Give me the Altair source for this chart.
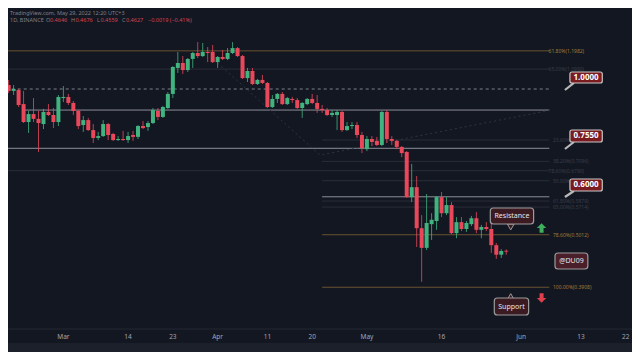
import math
import altair as alt
import pandas as pd

# ---------------- candle data (1D, Feb 17 - May 29 2022) ----------------
dates = pd.date_range("2022-02-17", "2022-05-29", freq="D").strftime("%Y-%m-%d").tolist()

opens = [
    1.084, 1.019, 0.991, 0.995, 0.931, 0.855, 0.888, 0.868, 0.847, 0.897, 0.884, 0.855,
    0.958, 0.963, 0.936, 0.901, 0.843, 0.863, 0.823, 0.793, 0.800, 0.847,
    0.808, 0.785, 0.789, 0.785, 0.804, 0.797, 0.839, 0.835, 0.851, 0.901,
    0.876, 0.914, 0.977, 1.105, 1.131, 1.094, 1.153, 1.186, 1.169, 1.192, 1.192,
    1.136, 1.164, 1.153, 1.186, 1.214, 1.169, 1.053, 1.089, 1.024, 1.044,
    1.029, 0.918, 0.954, 0.977, 0.931, 0.954, 0.949, 0.914, 0.931, 0.954,
    0.936, 0.910, 0.905, 0.884, 0.884, 0.897, 0.823, 0.839, 0.843, 0.804,
    0.752, 0.789, 0.782, 0.767, 0.897, 0.789, 0.782, 0.760, 0.742, 0.599,
    0.628, 0.517, 0.471, 0.527, 0.535, 0.599, 0.555, 0.577, 0.505, 0.532,
    0.515, 0.527, 0.542, 0.513, 0.520, 0.515, 0.477, 0.456, 0.4646,
]
highs = [
    1.094, 1.044, 1.019, 1.000, 0.991, 0.901, 0.958, 0.901, 0.910, 0.931, 0.914, 0.972,
    1.014, 0.977, 0.945, 0.905, 0.880, 0.872, 0.847, 0.816, 0.863, 0.851,
    0.812, 0.800, 0.820, 0.816, 0.820, 0.843, 0.859, 0.859, 0.914, 0.914,
    0.923, 0.986, 1.115, 1.192, 1.169, 1.158, 1.192, 1.249, 1.244, 1.220, 1.232,
    1.169, 1.203, 1.214, 1.249, 1.220, 1.175, 1.105, 1.105, 1.049, 1.069,
    1.034, 0.972, 0.981, 0.986, 0.963, 0.963, 0.958, 0.940, 0.958, 0.977,
    0.972, 0.927, 0.914, 0.905, 0.905, 0.901, 0.855, 0.855, 0.855, 0.816,
    0.800, 0.800, 0.797, 0.901, 0.905, 0.800, 0.785, 0.763, 0.745, 0.701,
    0.662, 0.550, 0.608, 0.555, 0.602, 0.614, 0.599, 0.585, 0.545, 0.545,
    0.535, 0.548, 0.558, 0.525, 0.532, 0.530, 0.482, 0.468, 0.4676,
]
lows = [
    1.005, 0.981, 0.972, 0.918, 0.851, 0.812, 0.855, 0.742, 0.827, 0.880, 0.831, 0.839,
    0.940, 0.927, 0.884, 0.827, 0.816, 0.820, 0.774, 0.785, 0.797, 0.785,
    0.782, 0.782, 0.782, 0.774, 0.782, 0.789, 0.827, 0.820, 0.847, 0.863,
    0.872, 0.910, 0.958, 1.079, 1.074, 1.084, 1.105, 1.158, 1.164, 1.136, 1.131,
    1.105, 1.147, 1.147, 1.180, 1.164, 1.049, 1.034, 1.019, 1.019, 1.024,
    0.914, 0.914, 0.936, 0.927, 0.927, 0.936, 0.910, 0.872, 0.927, 0.931,
    0.893, 0.893, 0.880, 0.876, 0.823, 0.816, 0.820, 0.827, 0.793, 0.738,
    0.745, 0.763, 0.763, 0.763, 0.774, 0.767, 0.752, 0.724, 0.597, 0.585,
    0.473, 0.401, 0.466, 0.489, 0.513, 0.545, 0.550, 0.503, 0.493, 0.510,
    0.508, 0.522, 0.505, 0.493, 0.510, 0.460, 0.447, 0.449, 0.4559,
]
closes = [
    1.019, 0.991, 1.000, 0.927, 0.855, 0.888, 0.868, 0.851, 0.897, 0.884, 0.855, 0.963,
    0.963, 0.936, 0.901, 0.839, 0.863, 0.823, 0.793, 0.800, 0.847, 0.804,
    0.785, 0.789, 0.785, 0.800, 0.797, 0.839, 0.831, 0.851, 0.905, 0.876,
    0.918, 0.977, 1.110, 1.131, 1.094, 1.153, 1.186, 1.169, 1.192, 1.186, 1.136,
    1.164, 1.153, 1.186, 1.214, 1.169, 1.053, 1.089, 1.024, 1.044, 1.029,
    0.918, 0.954, 0.977, 0.931, 0.958, 0.949, 0.914, 0.936, 0.954, 0.936,
    0.910, 0.905, 0.884, 0.893, 0.897, 0.823, 0.839, 0.843, 0.804, 0.756,
    0.789, 0.778, 0.767, 0.897, 0.789, 0.782, 0.760, 0.738, 0.599, 0.628,
    0.517, 0.471, 0.530, 0.538, 0.599, 0.555, 0.577, 0.505, 0.532, 0.515,
    0.530, 0.542, 0.513, 0.520, 0.515, 0.477, 0.456, 0.464, 0.4627,
]

# ---------------- horizontal levels (day offsets are days since Mar 1) ----------------
level_prices = [1.1982, 1.0990, 0.6790, 1.0000, 0.9050, 0.7550, 0.6000,
                0.7853, 0.7096, 0.6476, 0.5879, 0.5714, 0.5012, 0.3908]
level_start = [-14, -14, -14, -14, -7.75, -14, 52, 52, 52, 52, 52, 52, 52, 52]
level_end = [97.65] * 14
level_color = ["#6b5330", "#2a2e37", "#2a2e37", "#7c808a", "#8c8f97", "#8c8f97", "#8c8f97",
               "#2a2e37", "#2a2e37", "#2a2e37", "#2a2e37", "#2a2e37", "#6b5330", "#6b5330"]
level_dashed = [False, False, False, True, False, False, False,
                False, False, False, False, False, False, False]

# labels partly hidden behind the price tags show only their visible part
fib_labels = ["61.80%(1.1982)", "65.00%(1.0990)", "78.60%(0.6790)", "23.60%",
              "38.20%(0.7096)", "50.00%", "61.80%(0.5879)", "65.00%(0.5714)",
              "78.60%(0.5012)", "100.00%(0.3908)"]
fib_label_price = [1.1982, 1.0990, 0.6790, 0.7853, 0.7096, 0.6476, 0.5879, 0.5714, 0.5012, 0.3908]
fib_label_day = [97.5, 97.5, 97.5, 98.4, 98.4, 98.4, 98.4, 98.4, 98.4, 98.4]
fib_label_color = ["#a47a36", "#3a3e48", "#3a3e48", "#3a3e48", "#3a3e48", "#3a3e48",
                   "#3a3e48", "#3a3e48", "#a47a36", "#a47a36"]

trend_day = [31.0, 51.6, 98.0]
trend_price = [1.131, 0.731, 0.905]

# price callouts
price_tags = ["1.0000", "0.7550", "0.6000"]
tag_day0 = [101.8, 101.8, 101.8]
tag_day1 = [108.3, 108.3, 108.3]
tag_top = [1.0839, 0.8234, 0.6528]
tag_bot = [1.0289, 0.7779, 0.6167]
tag_mid = [1.0560, 0.8003, 0.6345]
tail_day0 = [102.6, 102.6, 102.6]
tail_day1 = [100.8, 100.8, 100.8]
tail_tip = [0.9953, 0.7525, 0.5994]

# text callouts
notes = ["Resistance", "Support", "@DU09"]
note_day0 = [85.8, 86.6, 98.8]
note_day1 = [94.5, 93.5, 105.4]
note_top = [0.5690, 0.3714, 0.4597]
note_bot = [0.5274, 0.3426, 0.4261]
note_mid = [0.5477, 0.3567, 0.4426]
note_fill = ["#3b1a22", "#3b1a22", "#4a1f29"]

pointer_day = [89.9, 89.9]
pointer_price = [0.5199, 0.3740]
pointer_shape = ["triangle-down", "triangle-up"]

arrow_day = [96.1, 96.1]
arrow_price = [0.5175, 0.3714]
arrow_color = ["#3fae5f", "#e0404e"]

tick_dates = ["2022-03-01", "2022-03-14", "2022-03-23", "2022-04-01", "2022-04-11", "2022-04-20",
              "2022-05-01", "2022-05-16", "2022-06-01", "2022-06-13", "2022-06-22"]
tick_labels = ["Mar", "14", "23", "Apr", "11", "20", "May", "16", "Jun", "13", "22"]

# ---------------- layout ----------------
W, H = 624, 344
PX_DAY = 5.057
X_MAR1 = 59.2 - 8
Y_ONE, PX_LN = 89 - 8, 211.0
BASE = pd.Timestamp("2022-03-01", tz="UTC")
UP, DOWN = "#41b37f", "#e9485a"
BG = "#131722"
FONT = "Noto Sans"


def iso(d):
    return (BASE + pd.Timedelta(days=d)).strftime("%Y-%m-%dT%H:%M:%SZ")


def ms(d):
    return int((BASE + pd.Timedelta(days=d)).value // 10**6)


xs = alt.Scale(type="utc", domain=[ms((0 - X_MAR1) / PX_DAY), ms((W - X_MAR1) / PX_DAY)])
ys = alt.Scale(type="log", nice=False,
               domain=[math.exp((Y_ONE - H) / PX_LN), math.exp(Y_ONE / PX_LN)])


def X(f):
    return alt.X(f, scale=xs, axis=None)


def Y(f):
    return alt.Y(f, scale=ys, axis=None)


candles = pd.DataFrame({"date": dates, "open": opens, "high": highs, "low": lows, "close": closes})
candles["col"] = [UP if c >= o else DOWN for o, c in zip(opens, closes)]

levels = pd.DataFrame({"start": [iso(d) for d in level_start], "end": [iso(d) for d in level_end],
                       "price": level_prices, "c": level_color, "dash": level_dashed})
fibs = pd.DataFrame({"d": [iso(d) for d in fib_label_day], "price": fib_label_price,
                     "label": fib_labels, "c": fib_label_color})
trend = pd.DataFrame({"d": [iso(d) for d in trend_day], "price": trend_price})
tags = pd.DataFrame({"d0": [iso(d) for d in tag_day0], "d1": [iso(d) for d in tag_day1],
                     "dm": [iso((a + b) / 2) for a, b in zip(tag_day0, tag_day1)],
                     "top": tag_top, "bot": tag_bot, "mid": tag_mid, "label": price_tags,
                     "t0": [iso(d) for d in tail_day0], "t1": [iso(d) for d in tail_day1],
                     "tip": tail_tip})
nts = pd.DataFrame({"d0": [iso(d) for d in note_day0], "d1": [iso(d) for d in note_day1],
                    "dm": [iso((a + b) / 2) for a, b in zip(note_day0, note_day1)],
                    "top": note_top, "bot": note_bot, "mid": note_mid, "label": notes,
                    "fill": note_fill})
pointers = pd.DataFrame({"d": [iso(d) for d in pointer_day], "price": pointer_price,
                         "shape": pointer_shape})
arrows = pd.DataFrame({"d": [iso(d) for d in arrow_day], "price": arrow_price, "c": arrow_color})
ticks = pd.DataFrame({"date": tick_dates, "label": tick_labels})
one = pd.DataFrame({"a": [0]})

layers = []

# bottom band + axis separator
layers.append(alt.Chart(one).mark_rect(color="#1c202b").encode(
    x=alt.value(0), x2=alt.value(W), y=alt.value(335), y2=alt.value(H)))
layers.append(alt.Chart(one).mark_rule(color="#242833", strokeWidth=1).encode(
    x=alt.value(0), x2=alt.value(W), y=alt.value(321)))

# levels
layers.append(alt.Chart(levels[~levels["dash"]]).mark_rule(strokeWidth=1, clip=True).encode(
    x=X("start:T"), x2="end:T", y=Y("price:Q"), color=alt.Color("c:N", scale=None)))
layers.append(alt.Chart(levels[levels["dash"]]).mark_rule(strokeWidth=1, strokeDash=[3, 3], clip=True).encode(
    x=X("start:T"), x2="end:T", y=Y("price:Q"), color=alt.Color("c:N", scale=None)))

# dotted trend
layers.append(alt.Chart(trend).mark_line(strokeDash=[2, 3], strokeWidth=1, color="#30343e", clip=True).encode(
    x=X("d:T"), y=Y("price:Q")))

# candles
layers.append(alt.Chart(candles).mark_rule(strokeWidth=1, opacity=0.8, clip=True).encode(
    x=X("date:T"), y=Y("low:Q"), y2="high:Q", color=alt.Color("col:N", scale=None)))
layers.append(alt.Chart(candles).mark_bar(size=4, clip=True).encode(
    x=X("date:T"), y=Y("open:Q"), y2="close:Q", color=alt.Color("col:N", scale=None)))

# fib labels
layers.append(alt.Chart(fibs).mark_text(align="left", baseline="middle", fontSize=5, font=FONT).encode(
    x=X("d:T"), y=Y("price:Q"), text="label:N", color=alt.Color("c:N", scale=None)))

# price tags
layers.append(alt.Chart(tags).mark_rule(strokeWidth=2.2, color="#b9b9b9").encode(
    x=X("t0:T"), x2="t1:T", y=Y("bot:Q"), y2="tip:Q"))
layers.append(alt.Chart(tags).mark_rect(fill="#7a1b20", stroke="#c8c8c8", strokeWidth=1.2, cornerRadius=2).encode(
    x=X("d0:T"), x2="d1:T", y=Y("top:Q"), y2="bot:Q"))
layers.append(alt.Chart(tags).mark_text(fontSize=8, fontWeight="bold", color="#ffffff", font=FONT,
                                        baseline="middle").encode(
    x=X("dm:T"), y=Y("mid:Q"), text="label:N"))

# notes
layers.append(alt.Chart(pointers).mark_point(filled=True, size=45, fill="#3b1a22", stroke="#9a9a9a",
                                             strokeWidth=1, opacity=1).encode(
    x=X("d:T"), y=Y("price:Q"), shape=alt.Shape("shape:N", scale=None)))
layers.append(alt.Chart(nts).mark_rect(stroke="#9c9c9c", strokeWidth=1.2, cornerRadius=3).encode(
    x=X("d0:T"), x2="d1:T", y=Y("top:Q"), y2="bot:Q", fill=alt.Fill("fill:N", scale=None)))
layers.append(alt.Chart(nts).mark_text(fontSize=7, color="#e6e6e6", font=FONT, baseline="middle").encode(
    x=X("dm:T"), y=Y("mid:Q"), text="label:N"))

# arrows
up_path = "M0,-1L1,0L0.42,0L0.42,1L-0.42,1L-0.42,0L-1,0Z"
down_path = "M0,1L1,0L0.42,0L0.42,-1L-0.42,-1L-0.42,0L-1,0Z"
layers.append(alt.Chart(arrows.iloc[[0]]).mark_point(shape=up_path, filled=True, size=90, opacity=1).encode(
    x=X("d:T"), y=Y("price:Q"), color=alt.Color("c:N", scale=None)))
layers.append(alt.Chart(arrows.iloc[[1]]).mark_point(shape=down_path, filled=True, size=90, opacity=1).encode(
    x=X("d:T"), y=Y("price:Q"), color=alt.Color("c:N", scale=None)))

# x tick labels
layers.append(alt.Chart(ticks).mark_text(fontSize=6.5, color="#a3a6af", font=FONT, baseline="middle").encode(
    x=X("date:T"), y=alt.value(329), text="label:N"))

# header
GRAY, RED = "#7d808a", "#d8434f"
layers.append(alt.Chart(one).mark_text(text="TradingView.com, May 29, 2022 12:20 UTC+3", align="left",
                                       baseline="middle", fontSize=5.5, color=GRAY, font=FONT).encode(
    x=alt.value(2), y=alt.value(4.5)))
header = [("1D, BINANCE", 2, GRAY), ("O", 38, GRAY), ("0.4646", 42, RED), ("H", 63, GRAY),
          ("0.4676", 67.5, RED), ("L", 89, GRAY), ("0.4559", 92.5, RED), ("C", 114, GRAY),
          ("0.4627", 118, RED), ("\u22120.0019 (\u22120.41%)", 140, RED)]
for txt, px, col in header:
    layers.append(alt.Chart(one).mark_text(text=txt, align="left", baseline="middle", fontSize=5.5,
                                           color=col, font=FONT).encode(
        x=alt.value(px), y=alt.value(11.5)))

chart = alt.layer(*layers).properties(
    width=W, height=H, padding=0, autosize=alt.AutoSizeParams(type="none"), background=BG
).configure_view(stroke=None)

chart.save("out.html", embed_options={"renderer": "svg", "actions": False})
